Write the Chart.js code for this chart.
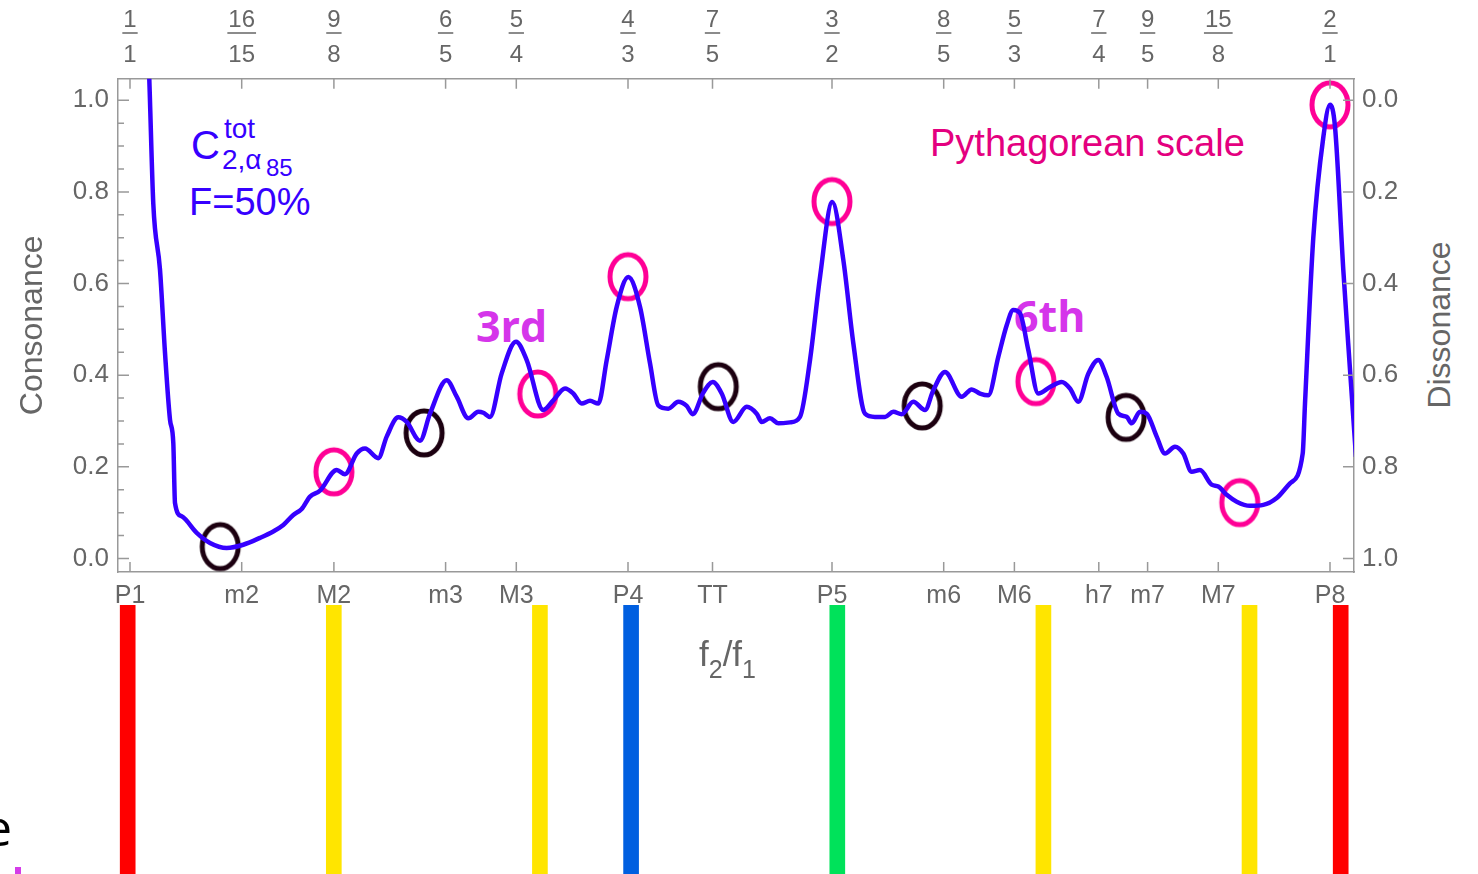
<!DOCTYPE html>
<html>
<head>
<meta charset="utf-8">
<title>Consonance curve, Pythagorean scale</title>
<script src="https://cdn.jsdelivr.net/npm/chart.js@4.4.1/dist/chart.umd.min.js"></script>
<style>
  html, body { margin: 0; padding: 0; background: #fff; }
  #wrap { position: relative; width: 1478px; height: 874px; overflow: hidden; font-family: "Liberation Sans", Arial, sans-serif; }
  #wrap canvas { position: absolute; left: 0; }
  #curve { top: 0; z-index: 2; }
  #bars { top: 605px; z-index: 1; }
  .note { position: absolute; line-height: 1; white-space: nowrap; z-index: 1; }
  .blue { color: #3600ff; }
  .bold { font-family: "Open Sans", sans-serif; font-weight: 700; color: #d535ea; font-size: 43px; }
  .gray { color: #666; }
</style>
</head>
<body>
<div id="wrap">
  <canvas id="curve" width="1478" height="640"></canvas>
  <canvas id="bars" width="1478" height="269"></canvas>

  <div class="note blue" style="left:191px; top:125px; font-size:40px;">C</div>
  <div class="note blue" style="left:224px; top:115px; font-size:28px;">tot</div>
  <div class="note blue" style="left:222px; top:146px; font-size:28px;">2,α</div>
  <div class="note blue" style="left:266px; top:156px; font-size:24px;">85</div>
  <div class="note blue" style="left:189px; top:183px; font-size:38px;">F=50%</div>

  <div class="note" style="left:930px; top:124px; font-size:38px; color:#e4007f;">Pythagorean scale</div>
  <div class="note bold" style="left:476px; top:304px;">3rd</div>
  <div class="note bold" style="left:1014px; top:294px;">6th</div>

  <div class="note gray" style="left:1439px; top:325px; font-size:32px; transform: translate(-50%, -50%) rotate(-90deg);">Dissonance</div>
  <div class="note gray" style="left:699px; top:636px; font-size:35px;">f<span style="font-size:25px; position:relative; top:12px;">2</span>/f<span style="font-size:25px; position:relative; top:12px;">1</span></div>

  <div class="note" style="left:-16px; top:802px; font-size:50px; font-family:'Open Sans', sans-serif; color:#000;">e</div>
  <div style="position:absolute; left:15px; top:867px; width:6px; height:7px; background:#d43ce8;"></div>
</div>

<script>
'use strict';

// interval positions (cents) for the two x axes
const tickCents = [0, 111.7, 203.9, 315.6, 386.3, 498.0, 582.5, 702.0, 813.7, 884.4, 968.8, 1017.6, 1088.3, 1200];
const intervalNames = ['P1', 'm2', 'M2', 'm3', 'M3', 'P4', 'TT', 'P5', 'm6', 'M6', 'h7', 'm7', 'M7', 'P8'];
const ratioNum = ['1', '16', '9', '6', '5', '4', '7', '3', '8', '5', '7', '9', '15', '2'];
const ratioDen = ['1', '15', '8', '5', '4', '3', '5', '2', '5', '3', '4', '5', '8', '1'];
const consTicks = [0, 0.2, 0.4, 0.6, 0.8, 1.0];

// total consonance curve C(2, alpha85), F = 50%
const curveCents = [
  17, 19.3, 23.3, 30, 35, 40, 43.3, 45, 51.7, 66.7, 80, 96.7, 113.3, 130, 143.3, 153.3,
  163.3, 171.7, 180, 190, 206.7, 215, 226.7, 235, 248.3, 256.7, 268.3, 276.7, 290, 300,
  316.7, 326.7, 338.3, 348.3, 353.3, 360, 371.7, 386, 396.7, 413.3, 423.3, 435, 443.3,
  451.7, 460, 468.3, 476.7, 486.7, 498.3, 510, 520, 528.3, 538.3, 548.3, 556.7, 562.7,
  573.3, 582.7, 591.7, 603.3, 616.7, 626.7, 631.7, 640, 648.3, 660, 670, 680, 690, 702.3,
  713.3, 723.3, 735, 745, 755, 763.3, 771.7, 783.3, 795, 803.3, 815, 831.7, 841.7, 850,
  858.3, 868.3, 876.7, 883.3, 890, 898.3, 908.3, 920, 931.7, 940, 948.3, 958.3, 968.3,
  976.7, 988.3, 996.7, 1001.7, 1010, 1016.7, 1026.7, 1035, 1045, 1053.3, 1061.7, 1070,
  1081.7, 1088.3, 1096.7, 1106.7, 1120, 1133.3, 1146.7, 1160, 1172.7, 1175, 1183.3,
  1193.3, 1200, 1205, 1213.3, 1220, 1226
];
const curveCons = [
  1.18, 1.046, 0.774, 0.630, 0.449, 0.303, 0.252, 0.121, 0.092, 0.056, 0.034, 0.023, 0.030, 0.045, 0.059, 0.073,
  0.095, 0.108, 0.135, 0.148, 0.193, 0.184, 0.229, 0.240, 0.219, 0.266, 0.308, 0.298, 0.257, 0.316,
  0.389, 0.353, 0.306, 0.320, 0.318, 0.309, 0.404, 0.473, 0.433, 0.324, 0.345, 0.371, 0.360,
  0.338, 0.344, 0.338, 0.433, 0.549, 0.614, 0.549, 0.426, 0.334, 0.327, 0.342, 0.333, 0.315,
  0.362, 0.385, 0.360, 0.298, 0.331, 0.316, 0.298, 0.306, 0.295, 0.297, 0.309, 0.433, 0.614, 0.778,
  0.652, 0.470, 0.316, 0.309, 0.309, 0.320, 0.315, 0.342, 0.324, 0.367, 0.407, 0.353, 0.369, 0.360,
  0.356, 0.440, 0.509, 0.542, 0.535, 0.455, 0.360, 0.374, 0.385, 0.371, 0.342, 0.403, 0.433,
  0.396, 0.316, 0.309, 0.295, 0.320, 0.316, 0.266, 0.229, 0.244, 0.229, 0.189, 0.193,
  0.161, 0.157, 0.139, 0.124, 0.115, 0.117, 0.132, 0.164, 0.229, 0.338, 0.700,
  0.919, 0.990, 0.942, 0.630, 0.412, 0.222
];

// Pythagorean scale steps marked on the curve
const pythCents = [90.2, 203.9, 294.1, 407.8, 498.0, 588.3, 702.0, 792.2, 905.9, 996.1, 1109.8, 1200.0];
const pythCons = [0.026, 0.189, 0.274, 0.359, 0.615, 0.375, 0.779, 0.333, 0.386, 0.308, 0.122, 0.990];
const pythMinor = [true, false, true, false, false, true, false, true, false, true, false, false];

// colour bars under the axis
const barCents = [0, 203.9, 407.8, 498.0, 702.0, 905.9, 1109.8, 1200];
const barColors = ['#ff0000', '#ffe500', '#ffe500', '#005fe0', '#00e25a', '#ffe500', '#ffe500', '#ff0000'];

const fontFamily = '"Liberation Sans", Arial, sans-serif';
const gray = '#666';
const frameColor = '#999';

function ring(color) {
  const c = document.createElement('canvas');
  c.width = 46;
  c.height = 54;
  const g = c.getContext('2d');
  g.strokeStyle = color;
  g.lineWidth = 5;
  g.beginPath();
  g.ellipse(23, 27, 18, 22, 0, 0, Math.PI * 2);
  g.stroke();
  return c;
}
const pinkRing = ring('#ff0096');
const blackRing = ring('#1c0010');

// tick marks point into the frame, plus the fraction bars on the top axis
const innerTicks = {
  id: 'innerTicks',
  afterDraw(chart) {
    const { ctx, chartArea: a, scales } = chart;
    ctx.save();
    ctx.strokeStyle = frameColor;
    ctx.lineWidth = 1.5;
    ctx.beginPath();
    scales.x.ticks.forEach(t => {
      const px = scales.x.getPixelForValue(t.value);
      ctx.moveTo(px, a.bottom);
      ctx.lineTo(px, a.bottom - 10);
    });
    scales.x2.ticks.forEach(t => {
      const px = scales.x2.getPixelForValue(t.value);
      ctx.moveTo(px, a.top);
      ctx.lineTo(px, a.top + 10);
    });
    for (let k = 0; k <= 20; k++) {
      const py = scales.y.getPixelForValue(k * 0.05);
      ctx.moveTo(a.left, py);
      ctx.lineTo(a.left + (k % 4 === 0 ? 11 : 6), py);
    }
    scales.y2.ticks.forEach(t => {
      const py = scales.y2.getPixelForValue(t.value);
      ctx.moveTo(a.right, py);
      ctx.lineTo(a.right - 11, py);
    });
    ctx.stroke();

    ctx.strokeStyle = gray;
    ctx.font = '24px ' + fontFamily;
    ctx.beginPath();
    scales.x2.ticks.forEach((t, i) => {
      const px = scales.x2.getPixelForValue(t.value);
      const w = ctx.measureText(ratioNum[i]).width + 2;
      ctx.moveTo(px - w / 2, 33);
      ctx.lineTo(px + w / 2, 33);
    });
    ctx.stroke();
    ctx.restore();
  }
};

function axisTicks(values) {
  return scale => { scale.ticks = values.map(v => ({ value: v })); };
}

new Chart(document.getElementById('curve'), {
  type: 'scatter',
  data: {
    datasets: [
      {
        label: 'consonance',
        data: curveCents.map((c, i) => ({ x: c, y: curveCons[i] })),
        showLine: true,
        borderColor: '#3600ff',
        borderWidth: 4.5,
        pointRadius: 0,
        cubicInterpolationMode: 'monotone',
        order: 1
      },
      {
        label: 'pythagorean',
        data: pythCents.map((c, i) => ({ x: c, y: pythCons[i] })),
        showLine: false,
        pointStyle: pythMinor.map(m => (m ? blackRing : pinkRing)),
        pointRadius: 22,
        order: 2
      }
    ]
  },
  options: {
    responsive: false,
    animation: false,
    devicePixelRatio: 1,
    events: [],
    layout: { padding: 0 },
    plugins: { legend: { display: false }, tooltip: { enabled: false } },
    scales: {
      x: {
        type: 'linear',
        position: 'bottom',
        min: -12,
        max: 1224,
        grid: { display: false, drawTicks: false },
        border: { color: frameColor, width: 1.5 },
        afterBuildTicks: axisTicks(tickCents),
        afterFit: s => { s.height = 68; },
        ticks: {
          autoSkip: false,
          maxRotation: 0,
          padding: 9,
          color: gray,
          font: { family: fontFamily, size: 25 },
          callback: (v, i) => intervalNames[i]
        }
      },
      x2: {
        type: 'linear',
        position: 'top',
        min: -12,
        max: 1224,
        grid: { display: false, drawTicks: false },
        border: { color: frameColor, width: 1.5 },
        afterBuildTicks: axisTicks(tickCents),
        afterFit: s => { s.height = 78.7; },
        ticks: {
          autoSkip: false,
          maxRotation: 0,
          padding: 6.4,
          color: gray,
          font: { family: fontFamily, size: 24, lineHeight: 1.44 },
          callback: (v, i) => [ratioNum[i], ratioDen[i]]
        }
      },
      y: {
        type: 'linear',
        position: 'left',
        min: -0.0295,
        max: 1.047,
        grid: { display: false, drawTicks: false },
        border: { color: frameColor, width: 1.5 },
        afterBuildTicks: axisTicks(consTicks),
        afterFit: s => { s.width = 118; },
        title: {
          display: true,
          text: 'Consonance',
          color: gray,
          font: { family: fontFamily, size: 32 },
          padding: { top: 14, bottom: 0 }
        },
        ticks: {
          padding: 9,
          color: gray,
          font: { family: fontFamily, size: 26 },
          callback: v => v.toFixed(1)
        }
      },
      y2: {
        type: 'linear',
        position: 'right',
        reverse: true,
        min: -0.047,
        max: 1.0295,
        grid: { display: false, drawTicks: false },
        border: { color: frameColor, width: 1.5 },
        afterBuildTicks: axisTicks(consTicks),
        afterFit: s => { s.width = 124; },
        ticks: {
          padding: 8,
          color: gray,
          font: { family: fontFamily, size: 26 },
          callback: v => v.toFixed(1)
        }
      }
    }
  },
  plugins: [innerTicks]
});

new Chart(document.getElementById('bars'), {
  type: 'bar',
  data: {
    datasets: [{
      data: barCents.map(c => ({ x: c, y: 1 })),
      backgroundColor: barColors,
      borderWidth: 0,
      barThickness: 15
    }]
  },
  options: {
    responsive: false,
    animation: false,
    devicePixelRatio: 1,
    events: [],
    layout: { padding: 0 },
    plugins: { legend: { display: false }, tooltip: { enabled: false } },
    scales: {
      x: { type: 'linear', display: false, offset: false, min: -126.33, max: 1335.83 },
      y: { display: false, min: 0, max: 1 }
    }
  }
});
</script>
</body>
</html>
